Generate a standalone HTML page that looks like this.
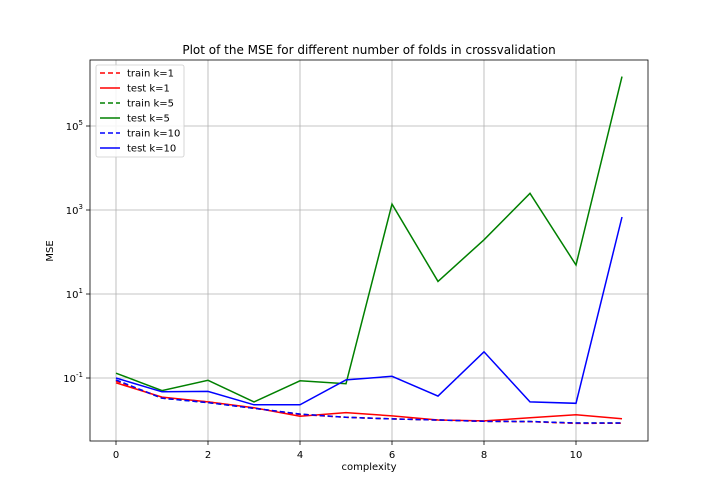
<!DOCTYPE html>
<html><head><meta charset="utf-8"><style>
html,body{margin:0;padding:0;background:#fff;}
svg{display:block;font-family:"DejaVu Sans","Liberation Sans",sans-serif;}
</style></head><body>
<svg id="chart" width="720" height="504"></svg>
<script>
const xs = [0,1,2,3,4,5,6,7,8,9,10,11];
const trainK1 = [0.085,0.034,0.027,0.019,0.0135,0.0116,0.0106,0.0100,0.0093,0.0091,0.0083,0.0084];
const testK1 = [0.077,0.035,0.027,0.0196,0.0123,0.015,0.0125,0.010,0.0095,0.0113,0.0134,0.0107];
const trainK5 = [0.088,0.033,0.026,0.019,0.0138,0.0116,0.0106,0.0100,0.0093,0.0092,0.0085,0.0085];
const testK5 = [0.13,0.05,0.088,0.027,0.086,0.073,1380,20,195,2500,49,1.5e6];
const trainK10 = [0.09,0.033,0.026,0.019,0.0138,0.0116,0.0106,0.0100,0.0093,0.0092,0.0085,0.0085];
const testK10 = [0.1,0.047,0.048,0.023,0.023,0.09,0.11,0.037,0.42,0.027,0.025,680];
const xTicks = [0,2,4,6,8,10];
const yTicks = [-1,1,3,5];

const L=90,R=648,T=60,B=441;
const sx = v => 116 + v*46;
const sy = v => 378 - 42*(Math.log10(v)+1);
const svg = document.getElementById('chart');
const NS='http://www.w3.org/2000/svg';
function mk(tag, attrs, parent){const e=document.createElementNS(NS,tag);for(const k in attrs)e.setAttribute(k,attrs[k]);(parent||svg).appendChild(e);return e;}

// grid + ticks
xTicks.forEach(t=>{
  const g=mk('line',{x1:sx(t),x2:sx(t),y1:T,y2:B,stroke:'#b0b0b0','stroke-width':0.8});
  
  
  mk('line',{x1:sx(t),x2:sx(t),y1:B,y2:B+4,stroke:'#000','stroke-width':0.8});
  const tx=mk('text',{x:sx(t),y:B+17,'text-anchor':'middle','font-size':10});
  tx.textContent=t;
  
  
});
yTicks.forEach(t=>{
  const y=sy(Math.pow(10,t));
  const g=mk('line',{x1:L,x2:R,y1:y,y2:y,stroke:'#b0b0b0','stroke-width':0.8});
  
  
  mk('line',{x1:L-4,x2:L,y1:y,y2:y,stroke:'#000','stroke-width':0.8});
  const tx=mk('text',{x:L-7,y:y+4,'text-anchor':'end','font-size':10});
  tx.innerHTML='10<tspan dy="-5" font-size="7">'+t+'</tspan>';
  
  
});

const series=[
 [trainK5,'green','5,3','train-k5'],
 [testK5,'green',null,'test-k5'],
 [trainK1,'red','5,3','train-k1'],
 [testK1,'red',null,'test-k1'],
 [trainK10,'blue','5,3','train-k10'],
 [testK10,'blue',null,'test-k10']
];
series.forEach(s=>{
  const d=s[0].map((v,i)=>(i?'L':'M')+sx(xs[i]).toFixed(1)+','+sy(v).toFixed(1)).join(' ');
  const p=mk('path',{d:d,fill:'none',stroke:s[1],'stroke-width':1.5});
  if(s[2])p.setAttribute('stroke-dasharray',s[2]);
  
  
});

// frame
const fr=mk('rect',{x:L,y:T,width:R-L,height:B-T,fill:'none',stroke:'#000','stroke-width':0.8});



// title / labels
const ti=mk('text',{x:369,y:54,'text-anchor':'middle','font-size':12});
ti.textContent='Plot of the MSE for different number of folds in crossvalidation';


const xl=mk('text',{x:369,y:470,'text-anchor':'middle','font-size':10});
xl.textContent='complexity';


const yl=mk('text',{x:53,y:251,'text-anchor':'middle','font-size':10,transform:'rotate(-90 53 251)'});
yl.textContent='MSE';



// legend
const lg=mk('g',{});


mk('rect',{x:96,y:65,width:88,height:92,rx:2,fill:'#fff','fill-opacity':0.85,stroke:'#ccc','stroke-width':0.8},lg);
const leg=[['train k=1','red',1],['test k=1','red',0],['train k=5','green',1],['test k=5','green',0],['train k=10','blue',1],['test k=10','blue',0]];
leg.forEach((e,i)=>{
  const y=73+i*15;
  const l=mk('line',{x1:100,x2:120,y1:y,y2:y,stroke:e[1],'stroke-width':1.5},lg);
  if(e[2])l.setAttribute('stroke-dasharray','5,3');
  const t=mk('text',{x:127,y:y+3.5,'font-size':10},lg);
  t.textContent=e[0];
  
  
});
</script>
</body></html>
